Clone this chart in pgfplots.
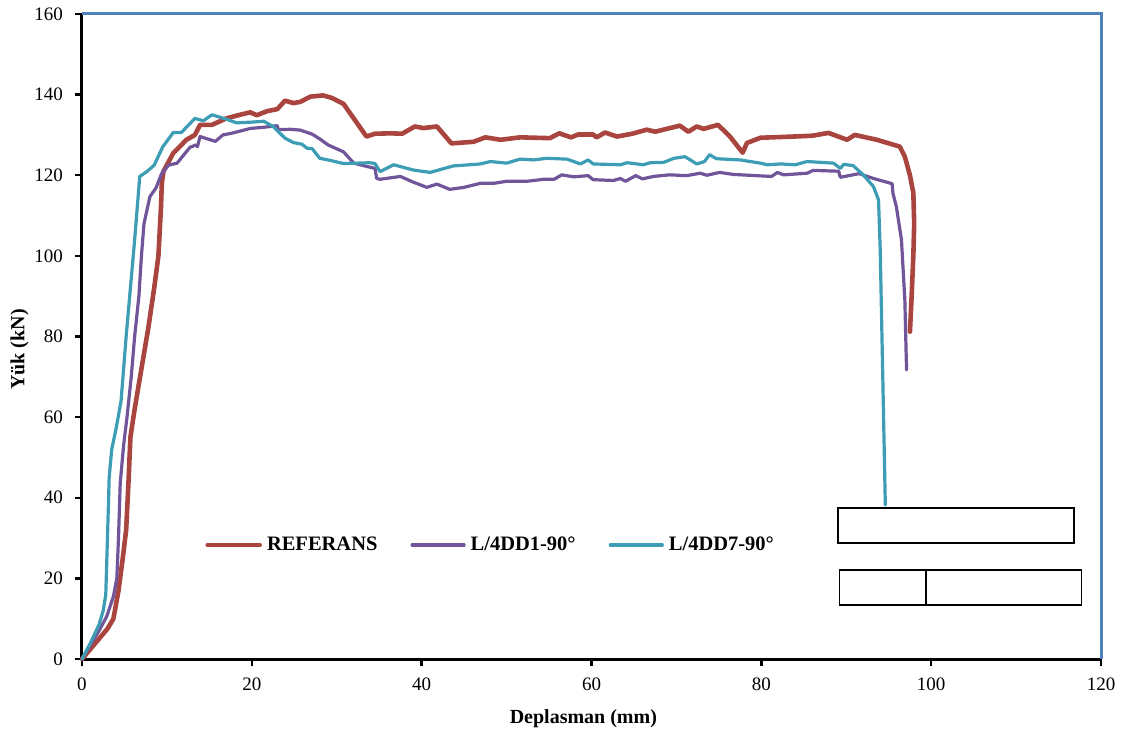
\documentclass[border=0pt]{standalone}
\usepackage{fontspec}
\setmainfont{Liberation Serif}
\usepackage{pgfplots}
\pgfplotsset{compat=1.18}
\definecolor{cred}{HTML}{A9443F}
\definecolor{cpurp}{HTML}{71559A}
\definecolor{cteal}{HTML}{3C9DB5}
\definecolor{cblue}{HTML}{4F81BD}
\begin{document}
\begin{tikzpicture}
\useasboundingbox (-41pt,-37pt) rectangle (522.5pt,329.5pt);
\begin{axis}[
  scale only axis, width=509.5pt, height=322.5pt,
  xmin=0, xmax=120, ymin=0, ymax=160,
  xtick={0,20,...,120}, ytick={0,20,...,160},
  axis x line*=bottom, axis y line*=left,
  axis line style={line width=1.5pt, -},
  tick style={line width=1.2pt, black},
  major tick length=3.5pt, tick align=outside,
  tick label style={font=\fontsize{9.5}{11}\selectfont},
  yticklabel style={xshift=-2.5pt},
  xticklabel style={yshift=-2.5pt},
  /pgf/number format/assume math mode=true,
  xlabel={\textbf{Deplasman (mm)}}, ylabel={\textbf{Yük (kN)}},
  label style={font=\fontsize{10}{12}\selectfont},
  xlabel style={at={(ticklabel cs:0.492)}, yshift=-2.5pt},
  ylabel style={at={(ticklabel cs:0.48)}, yshift=-4pt},
  legend columns=3,
  legend style={at={(axis cs:48.3,28.3)}, anchor=center, draw=none, fill=none,
    font=\fontsize{10.25}{12}\selectfont\bfseries,
    /tikz/every even column/.append style={column sep=14pt},
    /tikz/every odd column/.append style={column sep=0pt},
    inner xsep=0pt, nodes={inner xsep=2.5pt}},
  legend image code/.code={\draw[#1, line cap=round] (-2pt,0pt) -- (24pt,0pt);},
  every axis plot/.append style={line join=round, line cap=round},
  clip=false,
]
\addplot[cred, line width=2.3pt] coordinates {
(0,0) (1,2.5) (2,5) (3,7.5) (3.7,10) (4.3,17) (4.8,25) (5.2,32) (5.5,45) (5.7,55) (6.2,62) (7,72) (7.8,82) (8.5,92) (9.0,100) (9.3,112) (9.4,118) (9.6,121)
(10.75,125.5) (12.3,128.8) (13.3,130) (13.9,132.5) (15.3,132.5) (17,134.1) (18.6,135) (19.8,135.6) (20.6,134.9) (21.8,135.9) (23,136.4) (23.9,138.5) (24.9,137.9) (25.7,138.2) (26.9,139.5) (28.4,139.8) (29.4,139.2) (30.8,137.7)
(33.5,129.6) (34.5,130.3) (36.3,130.4) (37.7,130.3) (39.2,132.1) (40.2,131.7) (41.8,132.1) (43.5,127.9) (46.1,128.3) (47.5,129.4) (49.3,128.8) (51.6,129.4) (55.1,129.2) (56.2,130.4) (57.6,129.4) (58.4,130.1) (60.2,130.1) (60.6,129.4) (61.6,130.6) (63,129.6) (64.8,130.3) (66.5,131.3) (67.5,130.8) (70.4,132.3) (71.4,130.8) (72.4,132.1) (73.2,131.5) (74.9,132.5) (76.3,129.6)
(77.8,125.6) (78.3,128) (79.9,129.3) (83.8,129.6) (86,129.8) (87.9,130.5) (90.1,128.8) (91,130) (93.6,128.8) (96.3,127.1) (96.9,124.6) (97.5,120) (97.9,115.6) (98.0,108) (97.9,100) (97.7,90) (97.5,81.2)
};
\addlegendentry{REFERANS}
\addplot[cpurp, line width=1.6pt] coordinates {
(0,0) (1,3.5) (2,7) (2.9,10.5) (3.7,15.5) (4.1,20) (4.3,30) (4.5,43.6) (4.9,53) (5.3,60) (5.8,70) (6.2,80) (6.7,90) (7.0,100) (7.3,108) (8,114.7) (8.7,116.8) (9.4,120.5) (10.2,122.5) (11.2,123) (12.7,126.9) (13.4,127.5) (13.6,127.1) (13.9,129.6) (15.7,128.4) (16.6,130) (17.8,130.5) (19.8,131.6) (21.4,131.9) (23,132.3) (23.1,131.3) (24.5,131.4) (25.7,131.2) (27.1,130.2) (28,129) (29,127.5) (30.8,125.8) (32,123) (33.5,122.2) (34.5,121.7) (34.7,119.2) (35.1,119) (37.5,119.7) (39,118.3) (40.6,117) (41.8,117.8) (43.3,116.5) (45,117) (46.9,118) (48.5,118) (50,118.5) (52.4,118.5) (54.4,119) (55.6,119) (56.5,120.1) (57.9,119.6) (59.6,119.9) (60.2,118.9) (62.6,118.7) (63.4,119.2) (64,118.5) (65.2,119.9) (66,119.1) (67.3,119.7) (69.2,120.1) (71.2,119.9) (72.8,120.5) (73.6,120) (75.1,120.7) (76.7,120.2) (81.2,119.7) (81.9,120.7) (82.6,120.1) (85.4,120.5) (86.1,121.2) (89.1,121) (89.3,119.5) (90.8,120.1) (91.5,120.4) (93.2,119.2) (95.4,117.9) (95.5,115.5) (95.9,112.2) (96.5,104) (96.9,89) (97.1,71.7)
};
\addlegendentry{L/4DD1-90°}
\addplot[cteal, line width=1.6pt] coordinates {
(0,0) (1,4) (2,8.5) (2.5,12) (2.8,16) (3,30) (3.2,45) (3.5,52) (4,57) (4.6,64) (4.9,72) (5.2,80) (5.7,92) (6.2,104) (6.8,119.7) (7.7,121) (8.5,122.5) (9.5,127) (10.75,130.6) (11.7,130.6) (13.3,134.1) (14.3,133.5) (15.3,135) (17,133.9) (18.2,133) (20.2,133.2) (21.4,133.4) (22.5,132.1) (23.9,129.2) (24.9,128.1) (25.9,127.7) (26.5,126.7) (27.1,126.6) (28,124.2) (29.2,123.7) (30.8,122.9) (33.9,123.1) (34.5,122.9) (35.1,120.9) (36.7,122.6) (39,121.3) (41,120.7) (43.7,122.3) (46.9,122.8) (48.1,123.4) (50,123) (51.6,124) (53.2,123.8) (54.7,124.2) (57.1,124) (58.7,122.8) (59.6,123.8) (60.2,122.8) (63.4,122.6) (64.2,123.1) (66.1,122.6) (66.9,123.1) (68.5,123.2) (69.7,124.2) (71,124.6) (72.4,122.8) (73.3,123.4) (73.9,125.1) (74.7,124.1) (77.5,123.8) (79.9,123) (80.7,122.6) (82.3,122.8) (84,122.6) (85.4,123.4) (88.5,123) (89.3,121.7) (89.7,122.7) (90.8,122.4) (92,120.1) (93.2,117.2) (93.8,113.9) (94,101.5) (94.3,70) (94.6,38.2)
};
\addlegendentry{L/4DD7-90°}
\draw[cblue, line width=1.5pt] (rel axis cs:0,1) -- (rel axis cs:1,1) -- (rel axis cs:1,0);
\draw[line width=0.9pt] (axis cs:89.0,28.8) rectangle (axis cs:116.8,37.5);
\draw[line width=0.9pt] (axis cs:89.2,13.4) rectangle (axis cs:117.7,22.1);
\draw[line width=0.9pt] (axis cs:99.4,13.4) -- (axis cs:99.4,22.1);
\end{axis}
\end{tikzpicture}
\end{document}
